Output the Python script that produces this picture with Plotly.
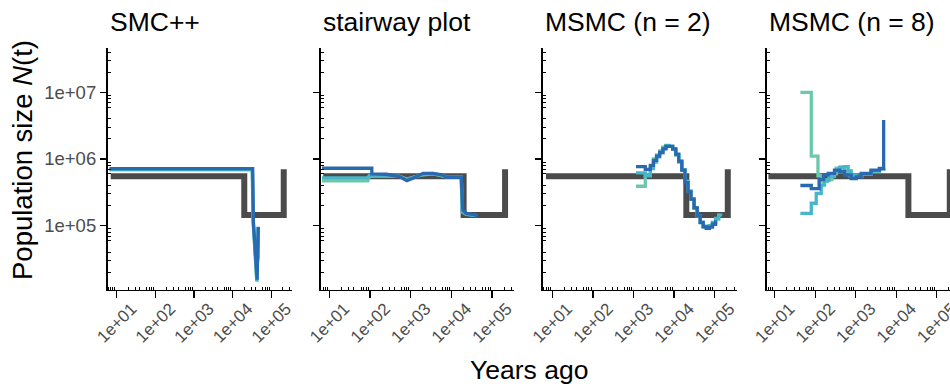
import plotly.graph_objects as go

# ---------------- data ----------------
panel_titles = ["SMC++", "stairway plot", "MSMC (n = 2)", "MSMC (n = 8)"]
x_tick_vals = [1e1, 1e2, 1e3, 1e4, 1e5]
x_tick_text = ["1e+01", "1e+02", "1e+03", "1e+04", "1e+05"]
y_tick_vals = [1e5, 1e6, 1e7]
y_tick_text = ["1e+05", "1e+06", "1e+07"]

# true demographic model (step function)
truth_t = [7, 2.0e4, 2.1e5]
truth_N = [5.5e5, 1.45e5, 7.0e5]

# SMC++
smc_green_t = [6.5, 3.2e4, 3.4e4, 4.2e4, 4.6e4, 4.45e4]
smc_green_N = [6.9e5, 6.9e5, 1.15e5, 1.5e4, 9.5e4, 3.0e4]
smc_cyan_t = [6.5, 3.25e4, 3.4e4, 4.25e4, 4.6e4, 4.45e4]
smc_cyan_N = [7.0e5, 7.0e5, 1.15e5, 1.45e4, 9.5e4, 3.0e4]
smc_blue_t = [6.5, 3.3e4, 3.45e4, 4.3e4, 4.6e4, 4.45e4]
smc_blue_N = [7.15e5, 7.15e5, 1.13e5, 1.55e4, 9.6e4, 3.05e4]

# stairway plot
sw_green_t = [6.5, 88, 95, 250, 530, 800, 1130, 2000, 3500, 6200, 7500, 17500, 18500, 23000, 40000]
sw_green_N = [4.7e5, 4.7e5, 5.5e5, 5.6e5, 5.5e5, 5.0e5, 5.3e5, 5.8e5, 6.0e5, 5.6e5, 5.4e5, 5.35e5, 1.65e5, 1.5e5, 1.42e5]
sw_cyan_t = [6.5, 88, 95, 250, 530, 800, 1130, 2000, 3500, 6200, 7500, 17500, 18500, 23000, 42000]
sw_cyan_N = [5.2e5, 5.2e5, 5.6e5, 5.65e5, 5.5e5, 4.9e5, 5.25e5, 5.9e5, 6.1e5, 5.7e5, 5.4e5, 5.35e5, 1.6e5, 1.48e5, 1.42e5]
sw_blue_t = [6.5, 110, 110, 250, 530, 800, 1130, 2000, 3500, 6200, 7500, 17500, 19200, 23300, 34000, 45000]
sw_blue_N = [7.26e5, 7.26e5, 5.96e5, 5.9e5, 5.43e5, 4.73e5, 5.13e5, 6.1e5, 6.1e5, 5.75e5, 5.32e5, 5.32e5, 1.72e5, 1.53e5, 1.48e5, 1.4e5]

# MSMC (n = 2)
m2_green_t = [1150, 1950, 2600, 3100, 3700, 4400, 5300, 6300, 7600, 9200, 11000, 13000, 15500, 18500, 22000, 26000, 31000, 37000, 44000, 52000, 62000, 74000, 88000, 105000, 125000]
m2_green_N = [3.9e5, 5.75e5, 7.6e5, 1.0e6, 1.15e6, 1.32e6, 1.5e6, 1.6e6, 1.55e6, 1.4e6, 1.15e6, 9.2e5, 6.9e5, 4.6e5, 3.3e5, 2.5e5, 1.85e5, 1.4e5, 1.1e5, 9.6e4, 9.2e4, 9.8e4, 1.1e5, 1.25e5, 1.4e5]
m2_cyan_t = [1150, 1950, 2600, 3100, 3700, 4400, 5300, 6300, 7600, 9200, 11000, 13000, 15500, 18500, 22000, 26000, 31000, 37000, 44000, 52000, 62000, 74000, 88000, 105000, 125000, 140000]
m2_cyan_N = [6.2e5, 5.6e5, 7.2e5, 9.0e5, 1.08e6, 1.25e6, 1.45e6, 1.58e6, 1.55e6, 1.4e6, 1.15e6, 9.0e5, 6.8e5, 4.5e5, 3.3e5, 2.5e5, 1.85e5, 1.4e5, 1.12e5, 9.8e4, 9.4e4, 1.0e5, 1.12e5, 1.28e5, 1.45e5, 1.52e5]
m2_blue_t = [1150, 1950, 2600, 3100, 3700, 4400, 5300, 6300, 7600, 9200, 11000, 13000, 15500, 18500, 22000, 26000, 31000, 37000, 44000, 52000, 62000, 74000, 88000, 105000]
m2_blue_N = [7.7e5, 7.0e5, 8.0e5, 9.5e5, 1.1e6, 1.25e6, 1.42e6, 1.55e6, 1.55e6, 1.42e6, 1.18e6, 9.3e5, 6.8e5, 4.4e5, 3.2e5, 2.5e5, 1.85e5, 1.4e5, 1.12e5, 9.6e4, 9.1e4, 9.5e4, 1.05e5, 1.2e5]

# MSMC (n = 8)
m8_green_t = [43, 80, 117, 150, 200, 260, 330, 420, 530, 700, 1000, 1400, 2400, 3850, 4900]
m8_green_N = [1.0e7, 1.1e6, 5.6e5, 4.6e5, 4.9e5, 6.0e5, 7.3e5, 7.6e5, 6.6e5, 5.6e5, 5.5e5, 6.0e5, 6.6e5, 7.1e5, 7.4e5]
m8_cyan_t = [43, 80, 106, 141, 170, 220, 300, 400, 525, 650, 775, 1000, 1400, 2400, 3850, 4900]
m8_cyan_N = [1.53e5, 2.17e5, 3.06e5, 4.07e5, 4.8e5, 5.5e5, 6.6e5, 7.4e5, 7.7e5, 6.6e5, 5.7e5, 5.5e5, 6.0e5, 6.6e5, 7.1e5, 7.4e5]
m8_blue_t = [43, 80, 125, 160, 210, 300, 400, 530, 775, 1030, 1370, 2400, 3850, 4900, 4900]
m8_blue_N = [4.0e5, 3.6e5, 4.9e5, 5.8e5, 6.1e5, 6.8e5, 6.5e5, 5.75e5, 5.1e5, 5.4e5, 6.1e5, 6.8e5, 7.2e5, 7.7e5, 3.85e6]

panels = [
    dict(shape="linear", series=[(smc_green_t, smc_green_N), (smc_cyan_t, smc_cyan_N), (smc_blue_t, smc_blue_N)]),
    dict(shape="linear", series=[(sw_green_t, sw_green_N), (sw_cyan_t, sw_cyan_N), (sw_blue_t, sw_blue_N)]),
    dict(shape="hv", series=[(m2_green_t, m2_green_N), (m2_cyan_t, m2_cyan_N), (m2_blue_t, m2_blue_N)]),
    dict(shape="hv", series=[(m8_green_t, m8_green_N), (m8_cyan_t, m8_cyan_N), (m8_blue_t, m8_blue_N)]),
]

# ---------------- style ----------------
FONT = "Liberation Sans, Arial, Helvetica, sans-serif"
W, H = 950, 389
series_colors = ["#6CC8AA", "#46B6C8", "#2A68B0"]
truth_color = "#4B4B4B"
x_dom_px = [(108, 292), (321, 514), (543, 737), (767, 950)]
x_ranges = [(0.775, 5.536), (0.79, 5.542), (0.771, 5.549), (0.81, 5.328)]
y_top_px, y_bot_px = 48, 289.5
y_range = (4.043, 7.664)
y_dom = [1 - y_bot_px / H, 1 - y_top_px / H]

x_minor_short = [m * 10 ** k for k in range(0, 6) for m in (2, 3, 4, 6, 7, 8, 9)]
x_minor_mid = [5 * 10 ** k for k in range(0, 6)]
y_minor_short = [m * 10 ** k for k in range(4, 8) for m in (2, 3, 4, 6, 7, 8, 9)]
y_minor_mid = [5 * 10 ** k for k in range(4, 8)]

fig = go.Figure()

for i, p in enumerate(panels):
    xa = "x" if i == 0 else f"x{i+1}"
    ya = "y" if i == 0 else f"y{i+1}"
    fig.add_trace(go.Scatter(x=truth_t, y=truth_N, mode="lines", xaxis=xa, yaxis=ya,
                             line=dict(color=truth_color, width=6, shape="hv"),
                             showlegend=False, hoverinfo="skip"))
    for (t, n), c in zip(p["series"], series_colors):
        fig.add_trace(go.Scatter(x=t, y=n, mode="lines", xaxis=xa, yaxis=ya,
                                 line=dict(color=c, width=3.3, shape=p["shape"]),
                                 showlegend=False, hoverinfo="skip"))

layout = dict(
    template="none",
    width=W, height=H,
    margin=dict(l=0, r=0, t=0, b=0, autoexpand=False),
    paper_bgcolor="white", plot_bgcolor="white",
    font=dict(family=FONT, color="black"),
    showlegend=False,
)

for i in range(4):
    k = i + 1
    xkey = "xaxis" if i == 0 else f"xaxis{k}"
    ykey = "yaxis" if i == 0 else f"yaxis{k}"
    xa = "x" if i == 0 else f"x{k}"
    ya = "y" if i == 0 else f"y{k}"
    dom = [x_dom_px[i][0] / W, x_dom_px[i][1] / W]
    layout[xkey] = dict(
        type="log", domain=dom, range=list(x_ranges[i]), anchor=ya, automargin=False,
        showline=True, linecolor="black", linewidth=1.6, showgrid=False, zeroline=False,
        tickmode="array", tickvals=x_tick_vals, ticktext=x_tick_text,
        ticks="outside", ticklen=7, tickwidth=1.3, tickcolor="black",
        tickangle=-45, tickfont=dict(size=17, color="#4D4D4D", family=FONT),
        ticklabelshift=15, ticklabelstandoff=-6, ticklabeloverflow="allow",
        minor=dict(tickmode="array", tickvals=x_minor_short, ticks="inside",
                   ticklen=3, tickwidth=1, tickcolor="black", showgrid=False),
    )
    layout[ykey] = dict(
        type="log", domain=y_dom, range=list(y_range), anchor=xa, automargin=False,
        showline=True, linecolor="black", linewidth=1.6, showgrid=False, zeroline=False,
        tickmode="array", tickvals=y_tick_vals, ticktext=y_tick_text,
        showticklabels=(i == 0), ticklabeloverflow="allow",
        ticks="outside", ticklen=6.5, tickwidth=1.3, tickcolor="black",
        tickfont=dict(size=18.5, color="#4D4D4D", family=FONT),
        minor=dict(tickmode="array", tickvals=y_minor_short, ticks="inside",
                   ticklen=3, tickwidth=1, tickcolor="black", showgrid=False),
    )
    # overlay axes: inside log-tick marks (long at decades, medium at 5s)
    layout[f"xaxis{k+4}"] = dict(
        type="log", overlaying=xa, anchor=ya, side="bottom", range=list(x_ranges[i]),
        automargin=False,
        showline=False, showgrid=False, zeroline=False, showticklabels=False,
        tickmode="array", tickvals=x_tick_vals, ticks="inside", ticklen=7,
        tickwidth=1.3, tickcolor="black",
        minor=dict(tickmode="array", tickvals=x_minor_mid, ticks="inside",
                   ticklen=5, tickwidth=1, tickcolor="black", showgrid=False),
    )
    layout[f"yaxis{k+4}"] = dict(
        type="log", overlaying=ya, anchor=xa, side="left", range=list(y_range),
        automargin=False,
        showline=False, showgrid=False, zeroline=False, showticklabels=False,
        tickmode="array", tickvals=y_tick_vals, ticks="inside", ticklen=7,
        tickwidth=1.3, tickcolor="black",
        minor=dict(tickmode="array", tickvals=y_minor_mid, ticks="inside",
                   ticklen=5, tickwidth=1, tickcolor="black", showgrid=False),
    )

annotations = []
for i, title in enumerate(panel_titles):
    annotations.append(dict(text=title, xref="paper", yref="paper",
                            x=x_dom_px[i][0] / W, y=1 - 21.5 / H,
                            xanchor="left", yanchor="middle", showarrow=False,
                            font=dict(size=26.5, color="black", family=FONT)))
annotations.append(dict(text="Population size <i>N</i>(t)", xref="paper", yref="paper",
                        x=22 / W, y=1 - 160 / H, textangle=-90,
                        xanchor="center", yanchor="middle", showarrow=False,
                        font=dict(size=27.5, color="black", family=FONT)))
annotations.append(dict(text="Years ago", xref="paper", yref="paper",
                        x=529 / W, y=1 - 370 / H,
                        xanchor="center", yanchor="middle", showarrow=False,
                        font=dict(size=26.5, color="black", family=FONT)))
layout["annotations"] = annotations

fig.update_layout(**layout)
fig.write_html("out.html",
               config={"displayModeBar": False, "staticPlot": True},
               post_script="document.body.style.margin='0px';document.body.style.overflow='hidden';")
